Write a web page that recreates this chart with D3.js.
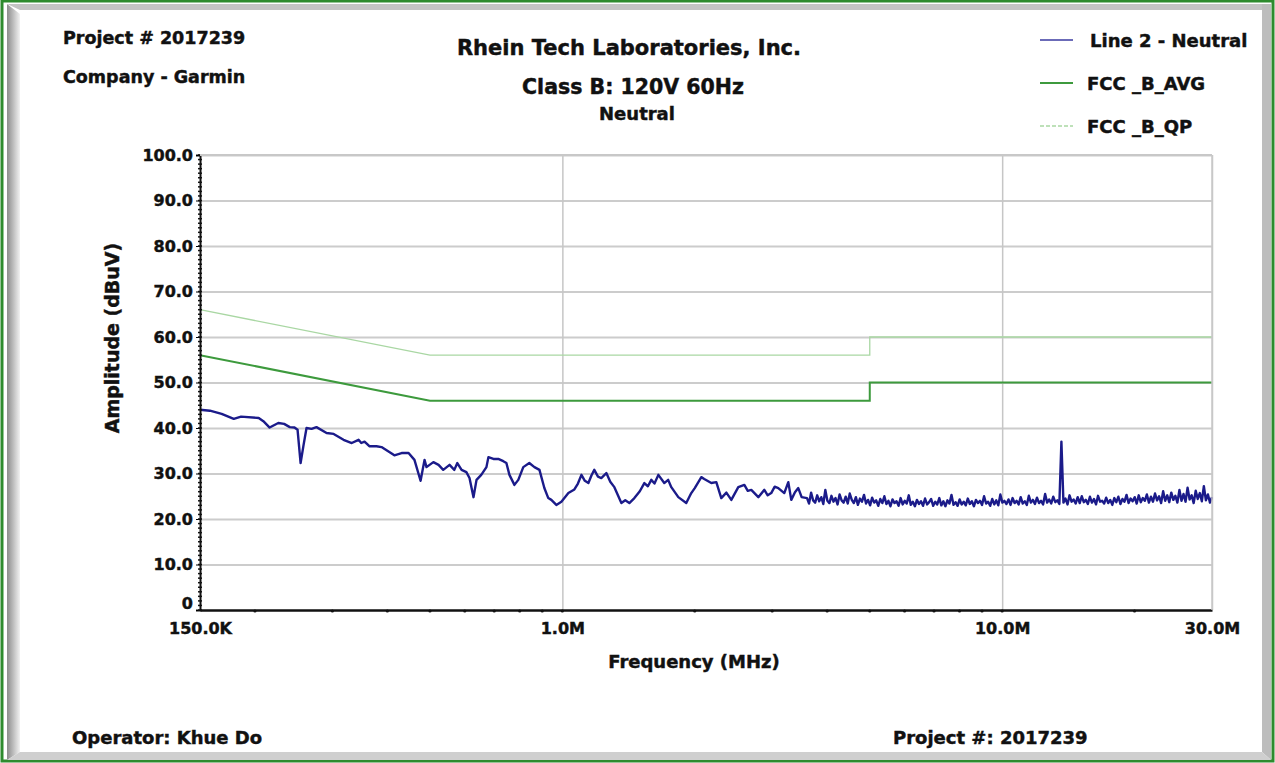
<!DOCTYPE html>
<html>
<head>
<meta charset="utf-8">
<script src="https://cdn.jsdelivr.net/npm/d3@7"></script>
<style>
	body { margin: 0; background: #fff; }
	svg text { font-family: "DejaVu Sans", sans-serif; font-weight: bold; fill: #111; stroke: #111; stroke-width: 0.45px; }
</style>
</head>
<body>
<div id="chart"></div>
<script>
// Emission trace, 150 kHz - 3.6 MHz (MHz, dBuV)
let traceFreq = [0.150, 0.158, 0.168, 0.179, 0.186, 0.204, 0.209, 0.216, 0.226, 0.233, 0.240, 0.246, 0.250, 0.254, 0.258, 0.262,
	0.269, 0.276, 0.291, 0.302, 0.318, 0.332, 0.344, 0.349, 0.355, 0.364, 0.378, 0.388, 0.415, 0.431, 0.447, 0.461,
	0.476, 0.486, 0.491, 0.509, 0.523, 0.536, 0.554, 0.568, 0.577, 0.590, 0.605, 0.615, 0.628, 0.638, 0.654, 0.672,
	0.679, 0.697, 0.715, 0.734, 0.746, 0.758, 0.778, 0.794, 0.815, 0.841, 0.864, 0.887, 0.910, 0.929, 0.944, 0.969,
	0.995, 1.032, 1.065, 1.085, 1.105, 1.125, 1.146, 1.165, 1.182, 1.205, 1.226, 1.259, 1.285, 1.313, 1.362, 1.390,
	1.420, 1.458, 1.500, 1.536, 1.565, 1.593, 1.620, 1.653, 1.705, 1.740, 1.769, 1.835, 1.913, 1.964, 2.000, 2.038,
	2.070, 2.102, 2.181, 2.239, 2.298, 2.360, 2.422, 2.512, 2.593, 2.640, 2.689, 2.790, 2.879, 2.930, 2.985, 3.040,
	3.097, 3.196, 3.264, 3.315, 3.380, 3.439, 3.500];
let traceAmp = [44.0, 43.8, 43.1, 42.0, 42.5, 42.2, 41.5, 40.1, 41.1, 40.9, 40.2, 40.1, 39.6, 32.3, 36.3, 40.0,
	39.8, 40.2, 38.9, 38.7, 37.4, 36.7, 37.4, 36.7, 37.0, 36.0, 36.0, 35.8, 34.0, 34.5, 34.5, 33.0,
	28.4, 33.0, 31.4, 32.5, 31.9, 30.8, 31.9, 30.8, 32.3, 30.8, 30.3, 29.0, 24.8, 28.6, 29.7, 31.4,
	33.6, 33.2, 33.2, 32.7, 32.3, 29.7, 27.5, 28.6, 31.4, 32.3, 31.4, 30.8, 26.8, 24.6, 24.2, 23.1,
	23.8, 25.7, 26.5, 27.8, 29.7, 28.4, 27.9, 29.6, 30.8, 29.3, 29.0, 30.1, 28.2, 27.0, 23.5, 24.1,
	23.5, 24.6, 26.1, 27.9, 27.2, 28.6, 27.8, 29.7, 27.9, 28.6, 27.0, 24.8, 23.5, 25.7, 26.8, 28.1,
	29.2, 28.8, 27.9, 28.1, 24.6, 25.8, 24.2, 27.0, 27.5, 26.2, 26.4, 24.8, 26.4, 25.2, 25.7, 27.1,
	26.8, 25.7, 28.1, 24.2, 25.9, 26.8, 24.8];

// Dense sweep from 3.6 MHz to 30 MHz, amplitude per sweep point (dBuV)
let sweepStart = 3.6;
let sweepStop = 30;
let sweepAmp = [
	24.6, 23.4, 25.8, 24.1, 23.6, 25.2, 23.9, 24.8, 23.3, 26.4, 24.0, 23.5, 25.1, 23.8, 24.6, 23.2, 25.4, 24.1, 23.6, 24.9,
	23.4, 25.6, 24.2, 23.5, 24.8, 23.1, 24.5, 23.8, 25.3, 23.4, 24.2, 23.0, 24.7, 23.6, 24.1, 22.9, 24.4, 23.5, 25.0, 23.3,
	24.0, 22.8, 24.3, 23.5, 23.9, 22.9, 24.6, 23.2, 24.0, 23.4, 25.2, 23.1, 23.8, 22.8, 24.2, 23.3, 23.9, 22.9, 24.5, 23.2,
	23.7, 24.4, 22.9, 23.8, 23.2, 24.6, 23.0, 23.9, 22.8, 24.1, 23.4, 25.3, 23.1, 23.7, 22.9, 24.3, 23.2, 23.8, 23.0, 24.5,
	23.3, 23.9, 22.8, 24.2, 23.5, 24.0, 23.1, 25.0, 23.4, 23.8, 22.9, 24.4, 23.2, 24.1, 23.0, 25.4, 23.6, 24.0, 23.3, 24.3,
	23.1, 24.6, 23.5, 24.0, 23.2, 24.8, 23.4, 23.9, 23.1, 25.1, 23.6, 24.2, 23.3, 24.7, 23.5, 24.0, 23.2, 25.5, 23.6, 24.3,
	23.4, 24.9, 23.7, 24.1, 23.3, 37.0, 23.6, 24.5, 23.2, 25.2, 23.8, 24.3, 23.4, 24.8, 23.5, 25.0, 23.7, 24.2, 23.3, 24.9,
	23.6, 24.4, 23.2, 25.1, 23.8, 24.0, 23.4, 24.7, 23.5, 24.2, 23.1, 24.6, 23.7, 24.9, 23.3, 24.4, 23.8, 25.3, 23.5, 24.5,
	23.9, 24.8, 23.4, 25.2, 23.7, 24.6, 24.0, 25.4, 23.6, 24.9, 23.8, 25.6, 24.1, 25.0, 23.5, 26.1, 24.0, 25.2, 23.7, 25.8,
	24.2, 25.1, 23.6, 26.4, 24.0, 25.5, 23.8, 26.9, 24.3, 25.2, 23.5, 26.2, 24.4, 25.7, 23.9, 27.2, 24.1, 25.4, 23.6, 24.8];

// FCC class B limits
let limitFreq = [0.15, 0.5, 5, 5, 30];
let qpAmp = [66, 56, 56, 60, 60];
let avgAmp = [56, 46, 46, 50, 50];

let yTicks = [0, 10, 20, 30, 40, 50, 60, 70, 80, 90, 100];
let xTicks = [0.15, 1, 10, 30];
let xTickLabels = ["150.0K", "1.0M", "10.0M", "30.0M"];

let legendNames = ["Line 2 - Neutral", "FCC _B_AVG", "FCC _B_QP"];
let colors = ["#1b1b8a", "#3d9a3d", "#a9d7a3"];

let width = 1275;
let height = 763;
let plot = { left: 200, right: 1212, top: 155, bottom: 610 };

let svg = d3.select("#chart").append("svg")
	.attr("width", width)
	.attr("height", height);

// frame: green outline with grey bevel
svg.append("rect").attr("x", 2).attr("y", 1).attr("width", width - 4).attr("height", height - 3)
	.attr("fill", "none").attr("stroke", "#2e8b2e").attr("stroke-width", 3);
let defs = svg.append("defs");
let lg = defs.append("linearGradient").attr("id", "bevelL");
lg.append("stop").attr("offset", "0%").attr("stop-color", "#8c8c8c");
lg.append("stop").attr("offset", "100%").attr("stop-color", "#f2f2f2");
svg.append("polygon").attr("points", "7,4 20,14 20,752 7,760").attr("fill", "url(#bevelL)");
svg.append("polygon").attr("points", "7,4 1262,4 1262,10 20,10").attr("fill", "#c4c4c4");
svg.append("polygon").attr("points", "1262,4 1271,4 1271,760 1262,752").attr("fill", "#bdbdbd");
svg.append("polygon").attr("points", "7,760 1271,760 1262,752 20,752").attr("fill", "#cfcfcf");

let x = d3.scaleLog().domain([0.15, 30]).range([plot.left, plot.right]);
let y = d3.scaleLinear().domain([0, 100]).range([plot.bottom, plot.top]);

// grid
svg.append("g")
	.attr("transform", `translate(${plot.left},0)`)
	.call(d3.axisLeft(y).tickValues(yTicks.slice(1)).tickSize(-(plot.right - plot.left)).tickFormat(""))
	.call(g => g.select(".domain").remove())
	.selectAll("line").attr("stroke", "#cccccc").attr("stroke-width", 2);
svg.append("g")
	.attr("transform", `translate(0,${plot.bottom})`)
	.call(d3.axisBottom(x).tickValues([1, 10, 30]).tickSize(-(plot.bottom - plot.top)).tickFormat(""))
	.call(g => g.select(".domain").remove())
	.selectAll("line").attr("stroke", "#c6c6c6").attr("stroke-width", 1.5);

// limit lines
let line = d3.line().x(d => x(d[0])).y(d => y(d[1]));
svg.append("path")
	.datum(limitFreq.map((f, i) => [f, qpAmp[i]]))
	.attr("d", line).attr("fill", "none").attr("stroke", colors[2]).attr("stroke-width", 1.3);
svg.append("path")
	.datum(limitFreq.map((f, i) => [f, avgAmp[i]]))
	.attr("d", line).attr("fill", "none").attr("stroke", colors[1]).attr("stroke-width", 2);

// emission trace
let sweepFreq = sweepAmp.map((a, i) => sweepStart * Math.pow(sweepStop / sweepStart, i / (sweepAmp.length - 1)));
let trace = traceFreq.map((f, i) => [f, traceAmp[i]])
	.concat(sweepFreq.map((f, i) => [f, sweepAmp[i]]));
svg.append("path")
	.datum(trace)
	.attr("d", line).attr("fill", "none").attr("stroke", colors[0])
	.attr("stroke-width", 2.4).attr("stroke-linejoin", "round");

// axes
let yAxis = svg.append("g")
	.attr("transform", `translate(${plot.left},0)`)
	.call(d3.axisLeft(y).tickValues(yTicks).tickSize(4).tickPadding(3)
		.tickFormat(d => d === 0 ? "0" : d.toFixed(1)));
yAxis.select(".domain").attr("stroke", "#111").attr("stroke-width", 2);
yAxis.selectAll("text").style("font-size", "16px").attr("fill", "#111");
yAxis.selectAll(".tick text").filter(d => d === 0).attr("dy", "-0.1em");
svg.append("g")
	.selectAll("line")
	.data(d3.range(0, 101, 1))
	.join("line")
	.attr("x1", plot.left - 2).attr("x2", plot.left + 2)
	.attr("y1", d => y(d)).attr("y2", d => y(d))
	.attr("stroke", "#111").attr("stroke-width", 1.5);

let xAxis = svg.append("g")
	.attr("transform", `translate(0,${plot.bottom})`)
	.call(d3.axisBottom(x).tickValues(xTicks).tickSize(0).tickPadding(13)
		.tickFormat((d, i) => xTickLabels[i]));
xAxis.select(".domain").attr("stroke", "#111").attr("stroke-width", 2.5);
xAxis.selectAll("text").style("font-size", "16px").attr("fill", "#111");
let minorX = [0.2, 0.3, 0.4, 0.5, 0.6, 0.7, 0.8, 0.9, 1, 2, 3, 4, 5, 6, 7, 8, 9, 10, 20];
svg.append("g")
	.selectAll("circle")
	.data(minorX)
	.join("circle")
	.attr("cx", d => x(d)).attr("cy", plot.bottom + 1)
	.attr("r", 1.6).attr("fill", "#111");

// plot border top/right
svg.append("line").attr("x1", plot.left).attr("x2", plot.right).attr("y1", plot.top).attr("y2", plot.top)
	.attr("stroke", "#c8c8c8").attr("stroke-width", 2);
svg.append("line").attr("x1", plot.right).attr("x2", plot.right).attr("y1", plot.top).attr("y2", plot.bottom)
	.attr("stroke", "#c8c8c8").attr("stroke-width", 1.5);

// axis titles
svg.append("text").attr("x", 694).attr("y", 668).attr("text-anchor", "middle")
	.style("font-size", "18px").text("Frequency (MHz)");
svg.append("text").attr("transform", "translate(119,338) rotate(-90)").attr("text-anchor", "middle")
	.style("font-size", "19px").text("Amplitude (dBuV)");

// titles and header / footer text
svg.append("text").attr("x", 629).attr("y", 55).attr("text-anchor", "middle")
	.style("font-size", "21px").text("Rhein Tech Laboratories, Inc.");
svg.append("text").attr("x", 633).attr("y", 94).attr("text-anchor", "middle")
	.style("font-size", "20.5px").text("Class B: 120V 60Hz");
svg.append("text").attr("x", 637).attr("y", 120).attr("text-anchor", "middle")
	.style("font-size", "18px").text("Neutral");
svg.append("text").attr("x", 63).attr("y", 44).style("font-size", "17.5px").text("Project # 2017239");
svg.append("text").attr("x", 63).attr("y", 83).style("font-size", "17.5px").text("Company - Garmin");
svg.append("text").attr("x", 72).attr("y", 744).style("font-size", "18px").text("Operator: Khue Do");
svg.append("text").attr("x", 893).attr("y", 744).style("font-size", "18px").text("Project #: 2017239");

// legend
let legend = svg.append("g")
	.selectAll("g")
	.data(legendNames)
	.join("g")
	.attr("transform", (d, i) => `translate(1040,${40 + i * 43})`);
legend.append("line")
	.attr("x1", 0).attr("x2", 33)
	.attr("stroke", (d, i) => i === 0 ? "#6b6bb8" : colors[i])
	.attr("stroke-width", (d, i) => i === 2 ? 1.3 : 2)
	.attr("stroke-dasharray", (d, i) => i === 2 ? "4,2" : null);
legend.append("text")
	.attr("x", (d, i) => i === 0 ? 50 : 47).attr("y", 7)
	.style("font-size", "18px")
	.text(d => d);
</script>
</body>
</html>
